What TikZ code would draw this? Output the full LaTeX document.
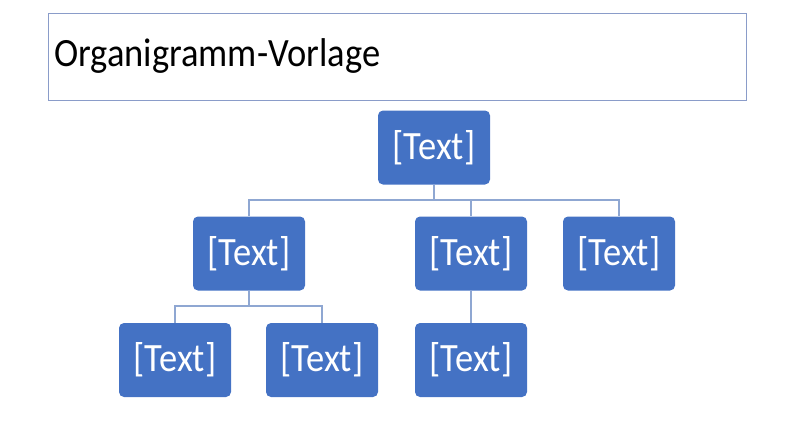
\documentclass[tikz,border=0pt]{standalone}
\usepackage{fontspec}
\setmainfont{Carlito}
\definecolor{boxblue}{HTML}{4472C4}
\definecolor{linkblue}{HTML}{8FA7D2}
\definecolor{titleframe}{HTML}{8A9CC9}
\newcommand{\tallish}[1]{\scalebox{1}[1.1]{#1}}
\begin{document}
\begin{tikzpicture}[x=1pt,y=-1pt,
  orgbox/.style={fill=boxblue, draw=none, rounded corners=5pt, minimum width=112pt, minimum height=74pt, inner sep=0pt, text=white, font=\fontsize{36.5}{40}\selectfont},
  link/.style={draw=linkblue, line width=1.1pt}]
\useasboundingbox (0,0) rectangle (800,440);
\node[draw=titleframe, line width=1pt, minimum width=698pt, minimum height=87pt, inner sep=0pt, anchor=north west] (title) at (48,13) {};
\node[anchor=west, inner sep=0pt, font=\fontsize{36.5}{40}\selectfont] (titletext) at (54,56) {\tallish{Organigramm-Vorlage}};
\node[orgbox] (top) at (434,147.5) {\tallish{[Text]}};
\node[orgbox] (a) at (249,253.5) {\tallish{[Text]}};
\node[orgbox] (b) at (471,253.5) {\tallish{[Text]}};
\node[orgbox] (c) at (619,253.5) {\tallish{[Text]}};
\node[orgbox] (a1) at (175,360) {\tallish{[Text]}};
\node[orgbox] (a2) at (322,360) {\tallish{[Text]}};
\node[orgbox] (b1) at (471,360) {\tallish{[Text]}};
\draw[link] (top.south) |- (a.north |- 0,200) -- (a.north);
\draw[link] (top.south) |- (c.north |- 0,200) -- (c.north);
\draw[link] (b.north |- 0,200) -- (b.north);
\draw[link] (a.south) |- (a1.north |- 0,306) -- (a1.north);
\draw[link] (a.south) |- (a2.north |- 0,306) -- (a2.north);
\draw[link] (b.south) -- (b1.north);
\end{tikzpicture}
\end{document}
